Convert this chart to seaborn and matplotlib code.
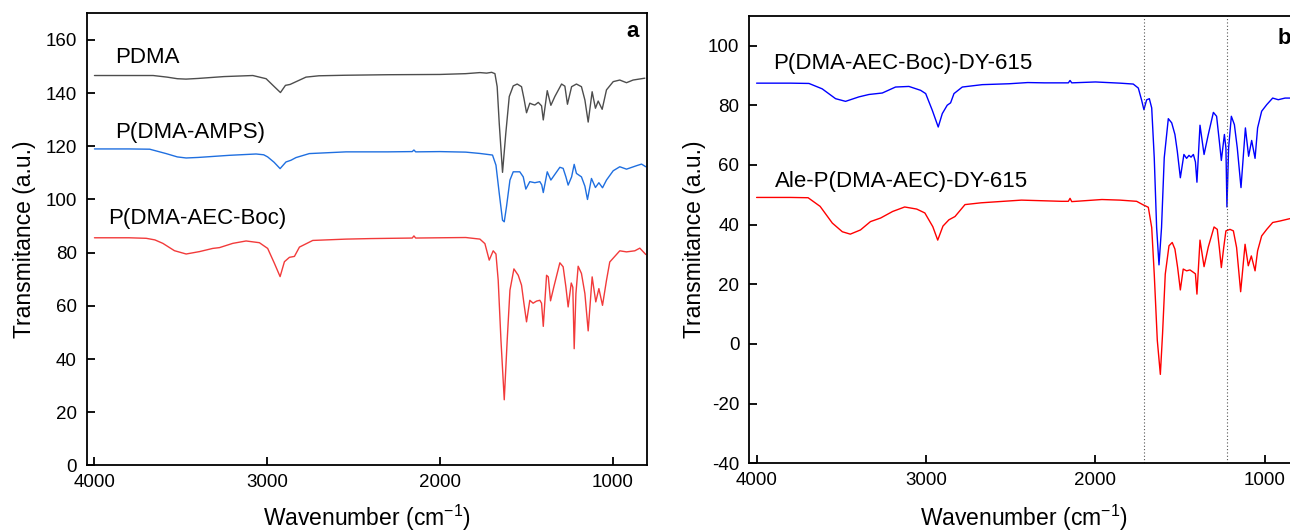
import matplotlib
matplotlib.use("Agg")
import matplotlib.pyplot as plt
import seaborn as sns
import pandas as pd

# ---------------- data (wavenumber cm-1, transmittance a.u.) ----------------
pdma = [(4000,146.6),(3800,146.6),(3660,146.6),(3580,146.0),(3520,145.4),(3470,145.25),(3400,145.5),
        (3250,146.2),(3083,146.6),(3006,145.4),(2960,142.5),(2923,140.2),(2894,142.9),(2867,143.25),
        (2842,144.0),(2775,146.0),(2700,146.5),(2550,146.7),(2300,146.9),(2000,147.0),(1850,147.3),
        (1768,147.7),(1729,147.5),(1700,147.8),(1681,147.3),(1668,142.4),(1656,128.6),(1637,110.2),
        (1618,124.9),(1598,138.7),(1575,142.7),(1552,143.4),(1527,142.4),(1513,138.0),(1498,132.6),
        (1479,136.2),(1465,135.8),(1450,135.5),(1430,136.5),(1411,135.2),(1401,129.9),(1378,140.9),
        (1357,135.4),(1334,138.7),(1295,143.4),(1276,142.6),(1261,135.8),(1237,142.4),(1209,143.4),
        (1180,142.4),(1160,137.4),(1141,129.1),(1118,140.5),(1099,134.3),(1083,137.0),(1060,133.9),
        (1035,141.2),(996,144.3),(958,144.9),(919,143.9),(881,144.9),(813,145.6)]

amps = [(4000,119.0),(3800,119.0),(3680,118.9),(3585,117.25),(3520,116.0),(3469,115.6),(3400,115.8),
        (3354,116.0),(3219,116.6),(3064,117.1),(3020,116.8),(2997,116.0),(2960,114.0),(2925,111.6),
        (2891,114.1),(2862,114.75),(2833,115.75),(2756,117.25),(2543,117.9),(2300,117.9),(2160,118.0),
        (2150,118.6),(2140,117.9),(2000,118.0),(1850,117.8),(1768,117.3),(1695,116.7),(1675,112.9),
        (1656,102.3),(1637,92.2),(1627,91.6),(1614,97.3),(1594,107.3),(1575,110.4),(1537,110.4),
        (1517,108.5),(1502,103.9),(1479,106.7),(1450,106.3),(1421,106.7),(1410,105.5),(1401,102.6),
        (1378,110.4),(1357,107.3),(1305,112.1),(1286,111.7),(1270,108.5),(1257,105.4),(1237,108.5),
        (1222,113.2),(1209,109.8),(1180,108.5),(1160,105.0),(1145,100.0),(1122,107.9),(1099,104.5),
        (1079,106.3),(1058,104.4),(1035,107.3),(996,110.8),(958,112.3),(919,111.4),(861,112.7),
        (832,113.3),(807,112.3)]

aec_boc = [(4000,85.6),(3800,85.6),(3700,85.4),(3650,84.8),(3604,83.5),(3537,80.75),(3469,79.5),
           (3392,80.4),(3315,81.6),(3276,81.9),(3199,83.5),(3122,84.4),(3045,83.75),(2997,81.6),
           (2958,76.0),(2925,71.0),(2900,76.6),(2871,78.25),(2842,78.6),(2813,82.1),(2736,84.6),
           (2543,85.1),(2400,85.3),(2160,85.5),(2150,86.3),(2140,85.5),(2000,85.6),(1850,85.7),
           (1768,85.1),(1739,83.4),(1714,77.2),(1691,80.7),(1675,79.5),(1662,69.6),(1646,47.0),
           (1627,24.7),(1610,47.0),(1594,65.9),(1571,73.9),(1546,71.5),(1527,67.8),(1513,60.9),
           (1498,54.0),(1479,62.1),(1460,61.0),(1440,61.8),(1421,62.1),(1411,61.0),(1401,52.3),
           (1382,71.5),(1372,70.9),(1359,61.9),(1340,67.1),(1305,76.2),(1286,74.7),(1270,67.1),
           (1257,59.6),(1239,68.6),(1230,67.0),(1222,43.9),(1212,64.6),(1199,74.9),(1180,72.2),
           (1160,64.6),(1141,50.6),(1118,70.9),(1097,61.5),(1079,66.5),(1058,60.2),(1035,69.6),
           (1016,76.5),(958,80.7),(919,80.3),(871,80.7),(842,81.7),(807,79.3)]

boc_dy = [(4000,87.4),(3800,87.4),(3691,87.3),(3613,85.5),(3534,82.2),(3475,81.3),(3396,82.8),
          (3337,83.6),(3258,84.1),(3180,86.1),(3101,86.3),(3032,85.0),(3002,83.9),(2963,78.3),
          (2928,72.7),(2904,77.2),(2875,80.0),(2855,80.8),(2835,83.9),(2786,86.1),(2668,86.9),
          (2510,87.2),(2400,87.6),(2300,87.5),(2160,87.5),(2150,88.3),(2140,87.5),(2000,87.8),
          (1855,87.4),(1777,87.1),(1747,85.75),(1728,81.8),(1714,78.5),(1698,81.8),(1682,82.2),
          (1668,79.1),(1653,62.4),(1639,39.0),(1625,26.5),(1610,39.0),(1594,62.4),(1570,75.5),
          (1550,74.1),(1531,70.2),(1517,64.6),(1499,55.7),(1478,63.5),(1462,62.2),(1448,63.2),
          (1436,62.6),(1422,63.5),(1410,61.0),(1401,54.2),(1383,73.3),(1359,63.5),(1334,70.2),
          (1304,77.6),(1285,76.3),(1269,68.0),(1257,61.5),(1239,70.2),(1230,65.7),(1224,45.9),
          (1214,65.7),(1198,76.3),(1180,73.5),(1163,65.7),(1141,52.4),(1115,72.4),(1096,62.9),
          (1078,68.2),(1058,62.2),(1043,72.4),(1019,78.0),(989,80.2),(954,82.4),(921,81.85),
          (881,82.4),(852,82.4),(800,82.6)]

ale_dy = [(4000,49.1),(3800,49.1),(3696,49.0),(3625,46.1),(3553,40.5),(3494,37.6),(3447,36.8),
          (3387,38.2),(3328,41.0),(3268,42.2),(3197,44.4),(3126,45.9),(3055,45.2),(3007,43.9),
          (2960,39.3),(2931,34.8),(2900,39.5),(2865,41.6),(2829,42.7),(2770,46.7),(2675,47.3),
          (2437,48.2),(2200,47.8),(2160,47.8),(2150,48.8),(2140,47.7),(1962,48.4),(1855,48.2),
          (1757,47.8),(1718,46.6),(1688,45.8),(1668,39.0),(1653,23.4),(1635,1.2),(1617,-10.2),
          (1604,3.4),(1588,23.4),(1566,32.9),(1547,34.0),(1531,31.8),(1515,25.6),(1499,18.1),
          (1482,25.1),(1462,24.5),(1442,24.8),(1422,24.0),(1410,23.5),(1401,16.7),(1383,34.8),
          (1359,25.9),(1334,32.5),(1300,39.2),(1281,38.4),(1269,32.3),(1257,25.6),(1243,32.3),
          (1230,37.9),(1206,38.4),(1186,37.9),(1167,32.3),(1143,17.5),(1117,33.4),(1098,26.2),
          (1080,29.5),(1058,24.5),(1043,31.2),(1019,36.2),(989,38.4),(954,40.7),(911,41.2),
          (852,42.0),(800,42.2)]

labels_a = ["PDMA", "P(DMA-AMPS)", "P(DMA-AEC-Boc)"]
labels_b = ["P(DMA-AEC-Boc)-DY-615", "Ale-P(DMA-AEC)-DY-615"]
marker_lines_b = [1715, 1225]
xticks = [4000, 3000, 2000, 1000]
yticks_a = [0, 20, 40, 60, 80, 100, 120, 140, 160]
yticks_b = [-40, -20, 0, 20, 40, 60, 80, 100]

# ---------------- style ----------------
sns.set_style("ticks")
plt.rcParams["font.family"] = ["Liberation Sans", "DejaVu Sans"]
plt.rcParams["mathtext.default"] = "regular"
plt.rcParams["axes.unicode_minus"] = False
for key in ["axes.edgecolor", "text.color", "axes.labelcolor", "xtick.color", "ytick.color"]:
    plt.rcParams[key] = "black"

fig = plt.figure(figsize=(12.9, 5.31), dpi=100)
axA = fig.add_axes([0.0672, 0.1234, 0.4344, 0.8516])
axB = fig.add_axes([0.5806, 0.1275, 0.4262, 0.8429])


def draw(ax, series, color):
    df = pd.DataFrame(series, columns=["wn", "T"])
    sns.lineplot(data=df, x="wn", y="T", ax=ax, color=color, linewidth=1.0,
                 estimator=None, sort=False)


draw(axA, pdma, "#4d4d4d")
draw(axA, amps, "#1f6fe0")
draw(axA, aec_boc, "#f23a3a")
draw(axB, boc_dy, "#0000ff")
draw(axB, ale_dy, "#ff0000")

for x in marker_lines_b:
    axB.axvline(x, color="#555555", linestyle=(0, (1, 2)), linewidth=0.8)

for ax, yt, ylim in [(axA, yticks_a, (0, 170)), (axB, yticks_b, (-40, 110))]:
    ax.set_xlim(4045, 800)
    ax.set_ylim(*ylim)
    ax.set_xticks(xticks)
    ax.set_yticks(yt)
    ax.tick_params(direction="in", length=6, width=1.3, labelsize=13.5,
                   top=False, right=False)
    ax.tick_params(axis="x", pad=6)
    ax.tick_params(axis="y", pad=7)
    for s in ax.spines.values():
        s.set_linewidth(1.3)
        s.set_color("black")
    ax.set_xlabel("Wavenumber (cm$^{-1}$)", fontsize=16.5)
    ax.set_ylabel("Transmitance (a.u.)", fontsize=16.5)

axA.xaxis.set_label_coords(0.5, -0.083)
axA.yaxis.set_label_coords(-0.09, 0.5)
axB.xaxis.set_label_coords(0.5, -0.088)
axB.yaxis.set_label_coords(-0.078, 0.5)

# curve labels
axA.text(3880, 153.2, labels_a[0], fontsize=16, va="center", ha="left")
axA.text(3880, 125.0, labels_a[1], fontsize=16, va="center", ha="left")
axA.text(3921, 93.0, labels_a[2], fontsize=16, va="center", ha="left")
axB.text(3904, 94.0, labels_b[0], fontsize=16, va="center", ha="left")
axB.text(3892, 54.3, labels_b[1], fontsize=16, va="center", ha="left")

axA.text(0.985, 0.948, "a", transform=axA.transAxes, fontsize=16, fontweight="bold",
         ha="right", va="baseline")
axB.text(0.986, 0.937, "b", transform=axB.transAxes, fontsize=16, fontweight="bold",
         ha="right", va="baseline")

fig.savefig("out.png", dpi=100)
